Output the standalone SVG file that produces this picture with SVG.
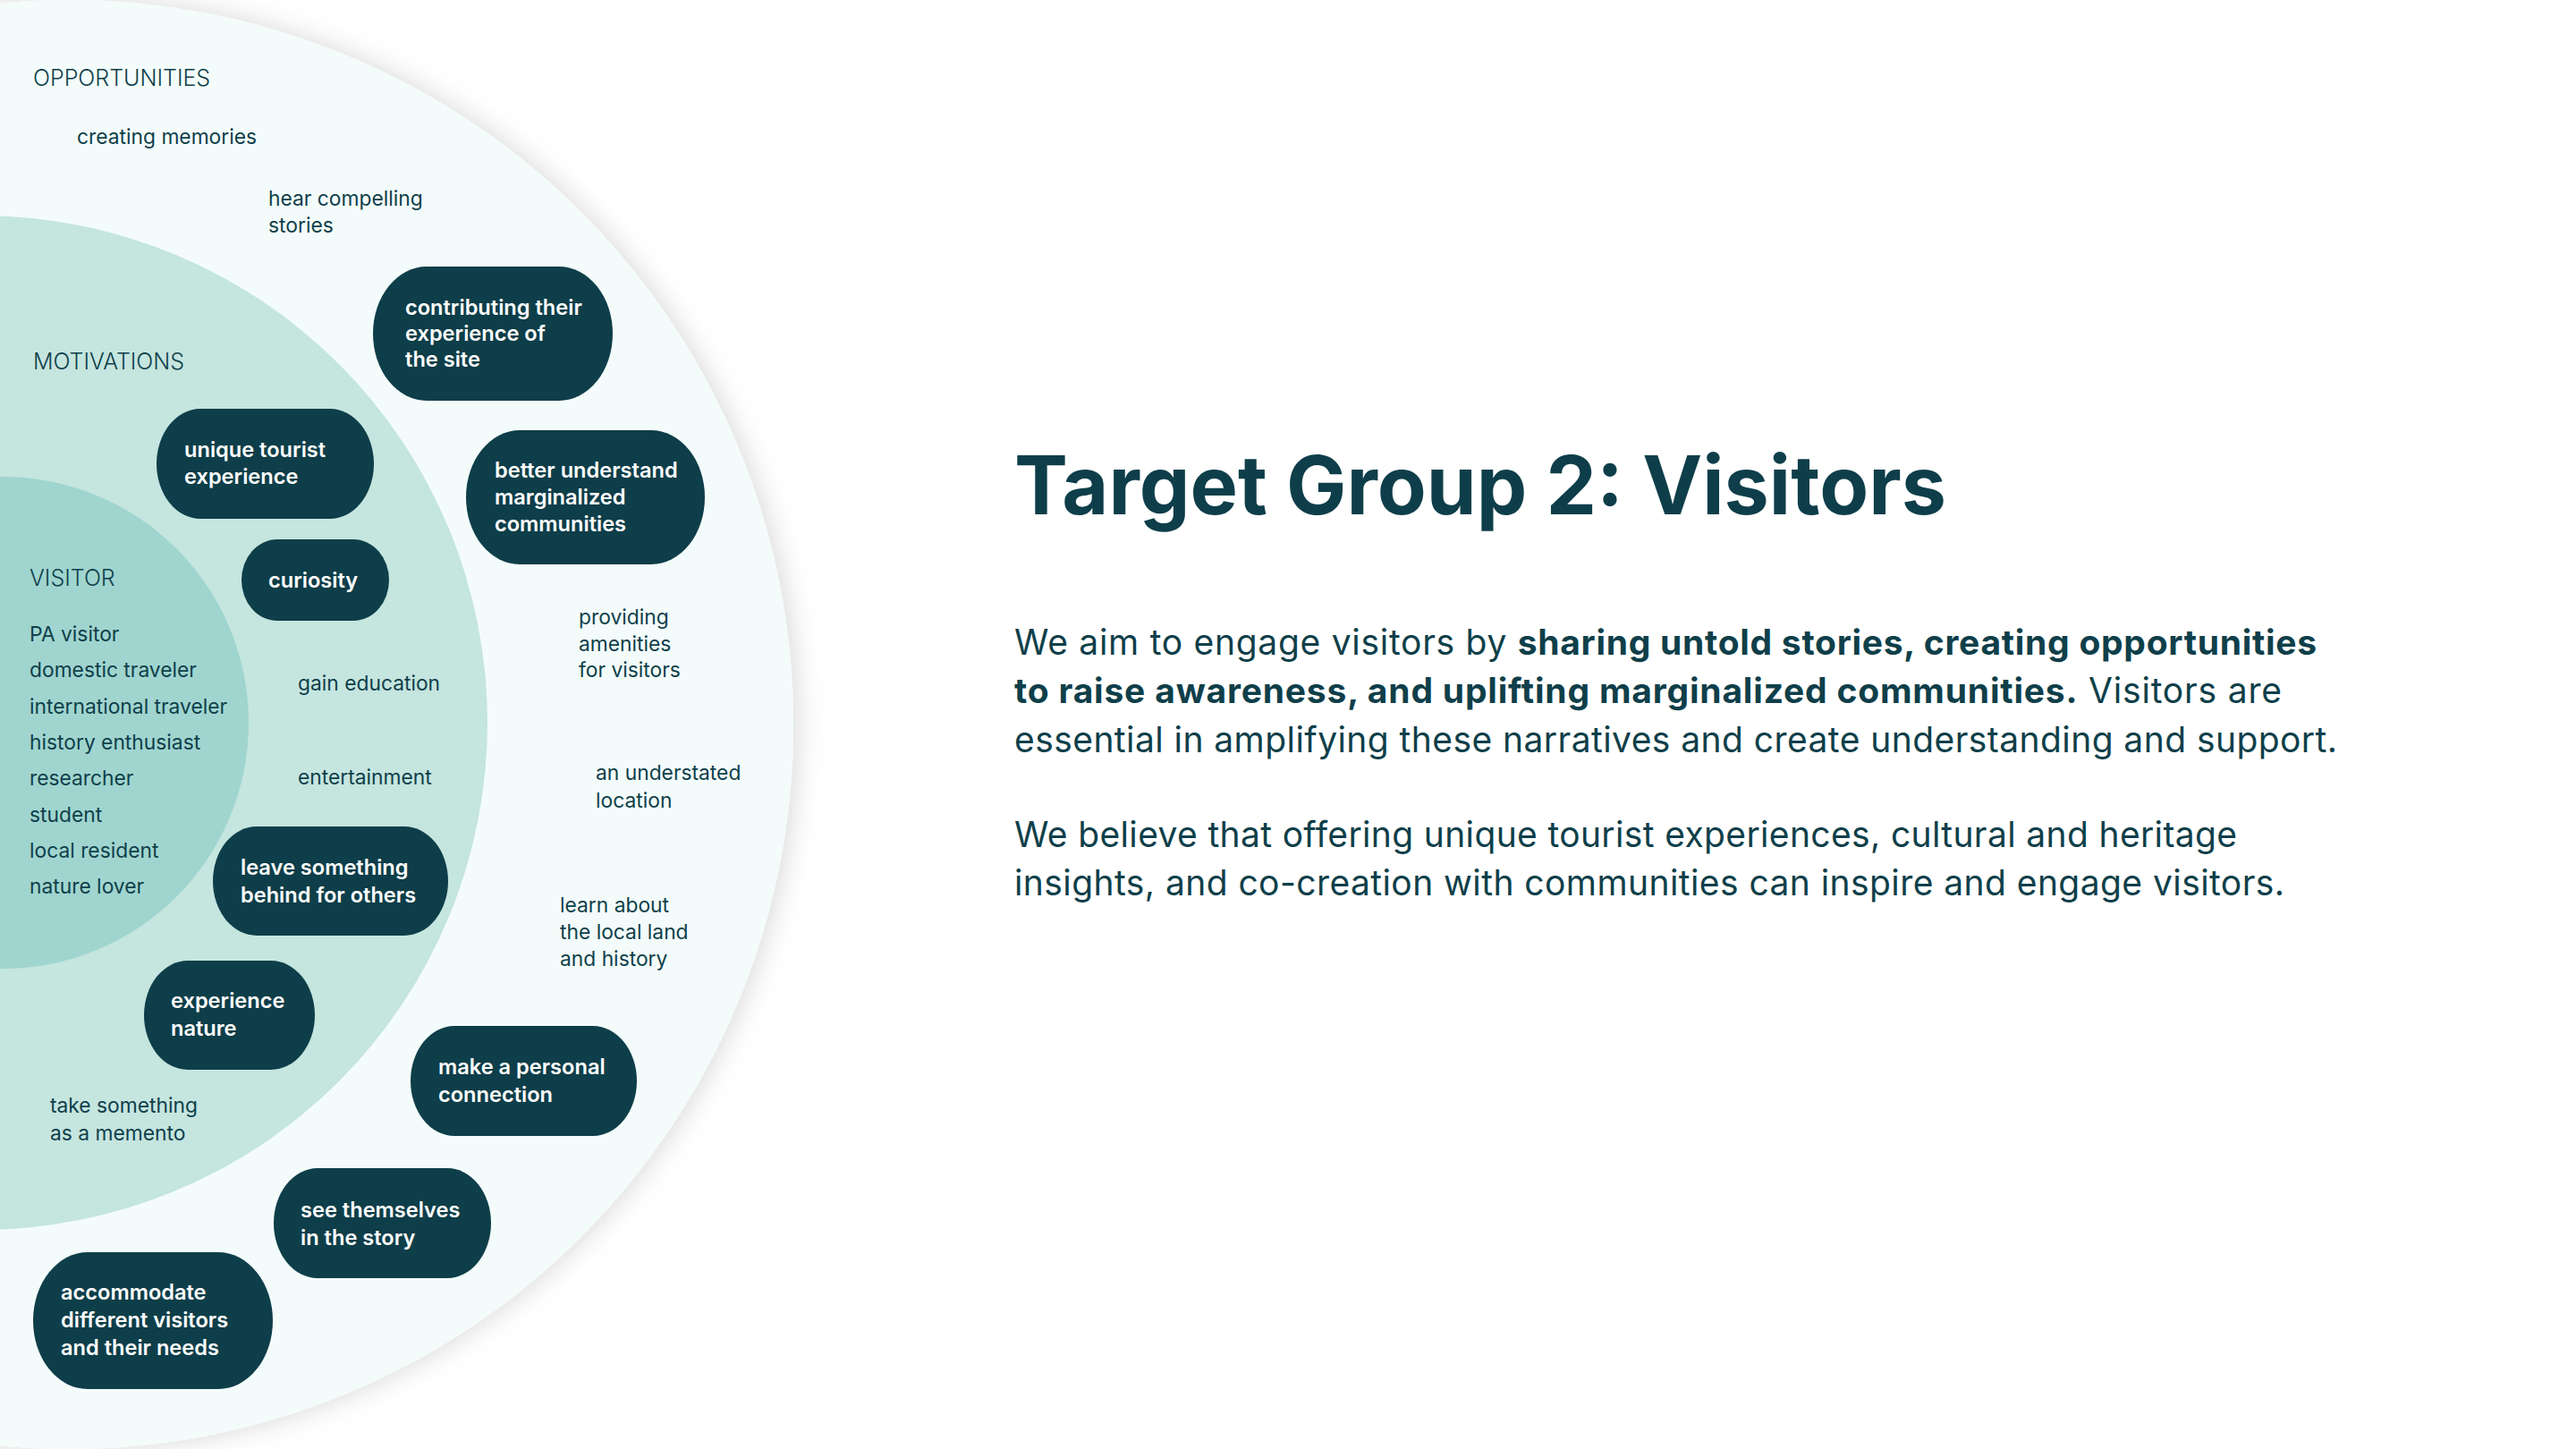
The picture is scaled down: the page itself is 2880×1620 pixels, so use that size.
<svg xmlns="http://www.w3.org/2000/svg" width="2880" height="1620" viewBox="0 0 2880 1620">
<defs>
<filter id="shadow" x="-20%" y="-20%" width="140%" height="140%">
<feDropShadow dx="4" dy="0" stdDeviation="15" flood-color="#000000" flood-opacity="0.15"/>
</filter>
<style>
.hdr{font-family:Inter,"Liberation Sans",sans-serif;font-size:25px;font-weight:300;fill:#0F3F4A}
.lbl{font-family:Inter,"Liberation Sans",sans-serif;font-size:22.8px;font-weight:400;fill:#0F3F4A}
.pill{fill:#0E3E49}
.pt{font-family:Inter,"Liberation Sans",sans-serif;font-size:23.6px;font-weight:600;fill:#FFFFFF}
.title{font-family:Inter,"Liberation Sans",sans-serif;font-size:91px;font-weight:700;fill:#0E3E4A}
.body{font-family:Inter,"Liberation Sans",sans-serif;font-size:39px;font-weight:400;fill:#0F3F4A}
.b{font-weight:700}
</style>
</defs>
<rect width="2880" height="1620" fill="#FFFFFF"/>
<g id="rings">
<circle id="ring-opportunities" cx="77" cy="810" r="810" fill="#F3FCFB" filter="url(#shadow)"/>
<circle id="ring-motivations" cx="-22" cy="808" r="567" fill="#C5E5DF"/>
<circle id="ring-visitor" cx="3" cy="808" r="275" fill="#A0D5CF"/>
</g>
<g id="connectors"/>
<g id="headers">
<text class="hdr" x="37" y="96">OPPORTUNITIES</text>
<text class="hdr" x="37" y="413">MOTIVATIONS</text>
<text class="hdr" x="33" y="655">VISITOR</text>
</g>
<g id="visitor-list">
<text class="lbl" x="33" y="717">PA visitor</text>
<text class="lbl" x="33" y="757">domestic traveler</text>
<text class="lbl" x="33" y="798">international traveler</text>
<text class="lbl" x="33" y="838">history enthusiast</text>
<text class="lbl" x="33" y="878">researcher</text>
<text class="lbl" x="33" y="919">student</text>
<text class="lbl" x="33" y="959">local resident</text>
<text class="lbl" x="33" y="999">nature lover</text>
</g>
<g id="label-creating-memories"><text class="lbl" x="86" y="161">creating memories</text></g>
<g id="label-hear-compelling"><text class="lbl" x="300" y="230">hear compelling</text><text class="lbl" x="300" y="260">stories</text></g>
<g id="label-providing-amenities"><text class="lbl" x="647" y="698">providing</text><text class="lbl" x="647" y="728">amenities</text><text class="lbl" x="647" y="757">for visitors</text></g>
<g id="label-understated"><text class="lbl" x="666" y="872">an understated</text><text class="lbl" x="666" y="903">location</text></g>
<g id="label-learn-about"><text class="lbl" x="626" y="1020">learn about</text><text class="lbl" x="626" y="1050">the local land</text><text class="lbl" x="626" y="1080">and history</text></g>
<g id="label-gain-education"><text class="lbl" x="333" y="772">gain education</text></g>
<g id="label-entertainment"><text class="lbl" x="333" y="877">entertainment</text></g>
<g id="label-take-something"><text class="lbl" x="56" y="1244">take something</text><text class="lbl" x="56" y="1275">as a memento</text></g>

<g id="node-contributing"><rect class="pill" x="417" y="298" width="268" height="150" rx="60" ry="75"/><text class="pt" x="453" y="352">contributing their</text><text class="pt" x="453" y="381">experience of</text><text class="pt" x="453" y="410">the site</text></g>
<g id="node-unique-tourist"><rect class="pill" x="175" y="457" width="243" height="123" rx="49" ry="61.5"/><text class="pt" x="206" y="511">unique tourist</text><text class="pt" x="206" y="541">experience</text></g>
<g id="node-better-understand"><rect class="pill" x="521" y="481" width="267" height="150" rx="60" ry="75"/><text class="pt" x="553" y="534">better understand</text><text class="pt" x="553" y="564">marginalized</text><text class="pt" x="553" y="594">communities</text></g>
<g id="node-curiosity"><rect class="pill" x="270" y="603" width="165" height="91" rx="40" ry="45.5"/><text class="pt" x="300" y="657">curiosity</text></g>
<g id="node-leave-something"><rect class="pill" x="238" y="924" width="263" height="122" rx="49" ry="61"/><text class="pt" x="269" y="978">leave something</text><text class="pt" x="269" y="1009">behind for others</text></g>
<g id="node-experience-nature"><rect class="pill" x="161" y="1074" width="191" height="122" rx="49" ry="61"/><text class="pt" x="191" y="1127">experience</text><text class="pt" x="191" y="1158">nature</text></g>
<g id="node-personal-connection"><rect class="pill" x="459" y="1147" width="253" height="123" rx="49" ry="61.5"/><text class="pt" x="490" y="1201">make a personal</text><text class="pt" x="490" y="1232">connection</text></g>
<g id="node-see-themselves"><rect class="pill" x="306" y="1306" width="243" height="123" rx="49" ry="61.5"/><text class="pt" x="336" y="1361">see themselves</text><text class="pt" x="336" y="1392">in the story</text></g>
<g id="node-accommodate"><rect class="pill" x="37" y="1400" width="268" height="153" rx="61" ry="76.5"/><text class="pt" x="68" y="1453">accommodate</text><text class="pt" x="68" y="1484">different visitors</text><text class="pt" x="68" y="1515">and their needs</text></g>

<g id="text-panel">
<text class="title" x="1134" y="575" textLength="1042" lengthAdjust="spacingAndGlyphs">Target Group 2: Visitors</text>
<text class="body" x="1134" y="732" textLength="1456">We aim to engage visitors by <tspan class="b">sharing untold stories, creating opportunities</tspan></text>
<text class="body" x="1134" y="786" textLength="1417"><tspan class="b">to raise awareness, and uplifting marginalized communities.</tspan> Visitors are</text>
<text class="body" x="1134" y="841" textLength="1479">essential in amplifying these narratives and create understanding and support.</text>
<text class="body" x="1134" y="947" textLength="1367">We believe that offering unique tourist experiences, cultural and heritage</text>
<text class="body" x="1134" y="1001" textLength="1420">insights, and co-creation with communities can inspire and engage visitors.</text>
</g>
</svg>
